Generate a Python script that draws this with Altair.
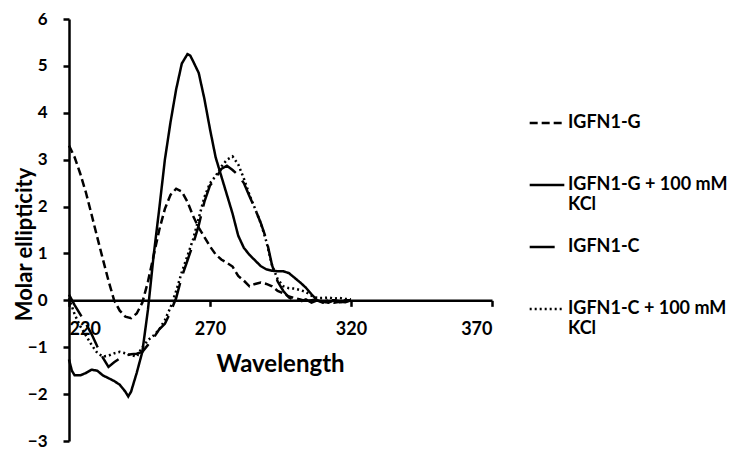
import altair as alt
import pandas as pd

series_names = ["IGFN1-G", "IGFN1-G + 100 mM KCl", "IGFN1-C", "IGFN1-C + 100 mM KCl"]

wl_g = [220, 222, 224, 226, 228, 230, 232, 234, 236, 238, 240, 242, 244, 246, 248, 250,
        252, 254, 256, 258, 260, 262, 264, 266, 268, 270, 272, 274, 276, 278, 280, 282,
        284, 286, 288, 290, 292, 294, 296, 298, 300, 302, 304, 306, 308, 310, 312, 314,
        316, 318, 320]
val_g = [3.3, 3.05, 2.7, 2.3, 1.83, 1.35, 0.88, 0.42, 0.0, -0.22, -0.35, -0.38, -0.28, -0.05, 0.4, 0.95,
         1.5, 1.95, 2.25, 2.38, 2.32, 2.1, 1.8, 1.55, 1.35, 1.15, 0.98, 0.87, 0.8, 0.72, 0.52, 0.42,
         0.3, 0.35, 0.38, 0.35, 0.3, 0.2, 0.15, 0.08, 0.05, 0.02, -0.02, 0.0, 0.02, -0.03, 0.0, 0.0,
         -0.02, 0.0, 0.0]

wl_gk = [220, 221, 222, 224, 226, 228, 230, 232, 234, 236, 238, 240, 241, 242, 244, 246,
         248, 250, 252, 254, 256, 258, 260, 262, 263, 264, 266, 268, 270, 272, 274, 276,
         278, 280, 282, 284, 286, 288, 290, 292, 294, 296, 298, 300, 302, 304, 306, 308,
         310, 312, 314, 316, 318, 320]
val_gk = [-1.26, -1.5, -1.6, -1.6, -1.55, -1.48, -1.5, -1.6, -1.66, -1.72, -1.8, -1.95, -2.05, -1.95, -1.55, -1.1,
          -0.2, 0.95, 1.95, 3.0, 3.8, 4.5, 5.05, 5.25, 5.22, 5.1, 4.85, 4.3, 3.65, 3.05, 2.65, 2.25,
          1.85, 1.38, 1.12, 0.97, 0.85, 0.73, 0.66, 0.63, 0.62, 0.62, 0.58, 0.48, 0.38, 0.27, 0.13, 0.0,
          -0.03, -0.05, 0.0, -0.04, -0.02, 0.0]

wl_c = [220, 222, 224, 226, 228, 230, 232, 234, 236, 238, 240, 242, 244, 246, 248, 250,
        252, 254, 256, 258, 260, 262, 264, 266, 268, 270, 272, 274, 276, 278, 280, 282,
        284, 286, 288, 290, 292, 294, 296, 298, 300, 302, 304, 306, 308, 310, 312, 314,
        316, 318, 320]
val_c = [0.12, -0.1, -0.3, -0.5, -0.72, -0.98, -1.22, -1.42, -1.32, -1.24, -1.18, -1.15, -1.14, -1.1, -0.95, -0.8,
         -0.62, -0.5, -0.25, 0.05, 0.5, 0.85, 1.2, 1.6, 2.1, 2.45, 2.6, 2.8, 2.87, 2.78, 2.67, 2.5,
         2.22, 1.95, 1.65, 1.3, 0.75, 0.4, 0.2, 0.06, 0.0, -0.03, 0.02, -0.05, 0.0, -0.05, -0.02, -0.05,
         -0.03, -0.04, 0.0]

wl_ck = [220, 222, 224, 226, 228, 230, 232, 234, 236, 238, 240, 242, 244, 246, 248, 250,
         252, 254, 256, 258, 260, 262, 264, 266, 268, 270, 272, 274, 276, 278, 280, 282,
         284, 286, 288, 290, 292, 294, 296, 298, 300, 302, 304, 306, 308, 310, 312, 314,
         316, 318, 320]
val_ck = [0.05, -0.3, -0.55, -0.75, -0.95, -1.12, -1.2, -1.18, -1.13, -1.1, -1.13, -1.17, -1.2, -1.0, -0.85, -0.75,
          -0.62, -0.42, -0.15, 0.2, 0.6, 0.95, 1.3, 1.75, 2.2, 2.5, 2.65, 2.85, 3.0, 3.07, 2.9, 2.6,
          2.25, 1.95, 1.65, 1.25, 0.75, 0.45, 0.3, 0.26, 0.25, 0.22, 0.18, 0.1, 0.05, 0.05, 0.06, 0.04,
          0.05, 0.03, 0.02]

x_ticks = [220, 270, 320, 370]
y_ticks = [-3, -2, -1, 0, 1, 2, 3, 4, 5, 6]

rows = []
for name, xs, ys in zip(series_names, [wl_g, wl_gk, wl_c, wl_ck], [val_g, val_gk, val_c, val_ck]):
    for i, (x, y) in enumerate(zip(xs, ys)):
        rows.append({"Wavelength": x, "Molar ellipticity": y, "Series": name, "idx": i})
df = pd.DataFrame(rows)

W = 423
H = 422
zero_offset = -(H - H * 6 / 9)

FONT = "Lato"

chart = alt.Chart(df).mark_line(strokeWidth=2.5, color="black").encode(
    x=alt.X("Wavelength:Q",
            scale=alt.Scale(domain=[220, 370], nice=False, zero=False),
            axis=alt.Axis(values=x_ticks, offset=zero_offset, grid=False,
                          domainColor="black", domainWidth=2.5,
                          tickColor="black", tickWidth=2.5, tickSize=6,
                          labelFont=FONT, labelFontSize=18, labelFontWeight="bold",
                          labelColor="black", labelPadding=14, labelBaseline="top",
                          title="Wavelength", titleFont=FONT, titleFontSize=24,
                          titleFontWeight="bold", titleColor="black",
                          titleX=211, titleY=71, titleBaseline="alphabetic",
                          titleAlign="center", titleAnchor="middle")),
    y=alt.Y("Molar ellipticity:Q",
            scale=alt.Scale(domain=[-3, 6], nice=False, zero=False),
            axis=alt.Axis(values=y_ticks, grid=False,
                          domainColor="black", domainWidth=2.5,
                          tickColor="black", tickWidth=2.5, tickSize=6,
                          labelFont=FONT, labelFontSize=17, labelFontWeight="bold",
                          labelColor="black", labelPadding=16,
                          title="Molar ellipticity", titleFont=FONT, titleFontSize=22,
                          titleFontWeight="bold", titleColor="black",
                          titleX=-45, titleY=225, titleAngle=-90,
                          titleAlign="center", titleBaseline="middle")),
    strokeDash=alt.StrokeDash("Series:N",
                              scale=alt.Scale(domain=series_names,
                                              range=[[8, 4], [1, 0], [25, 10], [2, 3]]),
                              legend=alt.Legend(title=None, orient="none",
                                                legendX=459, legendY=85,
                                                symbolType="stroke", symbolSize=1200,
                                                symbolStrokeWidth=2.5,
                                                symbolStrokeColor="black",
                                                labelFont=FONT, labelFontSize=18,
                                                labelFontWeight="bold", labelColor="black",
                                                labelLimit=400, labelOffset=2,
                                                rowPadding=14,
                                                labelExpr="indexof(datum.label, ' KCl') > 0 ? [replace(datum.label, ' KCl', ''), 'KCl'] : [datum.label, '']")),
    order="idx:Q",
).properties(
    width=W, height=H,
    autosize=alt.AutoSizeParams(type="none"),
    padding={"left": 61, "top": 11, "right": 240, "bottom": 10},
).configure_view(stroke=None)

chart.save("out.html", embed_options={"renderer": "svg", "actions": False})
